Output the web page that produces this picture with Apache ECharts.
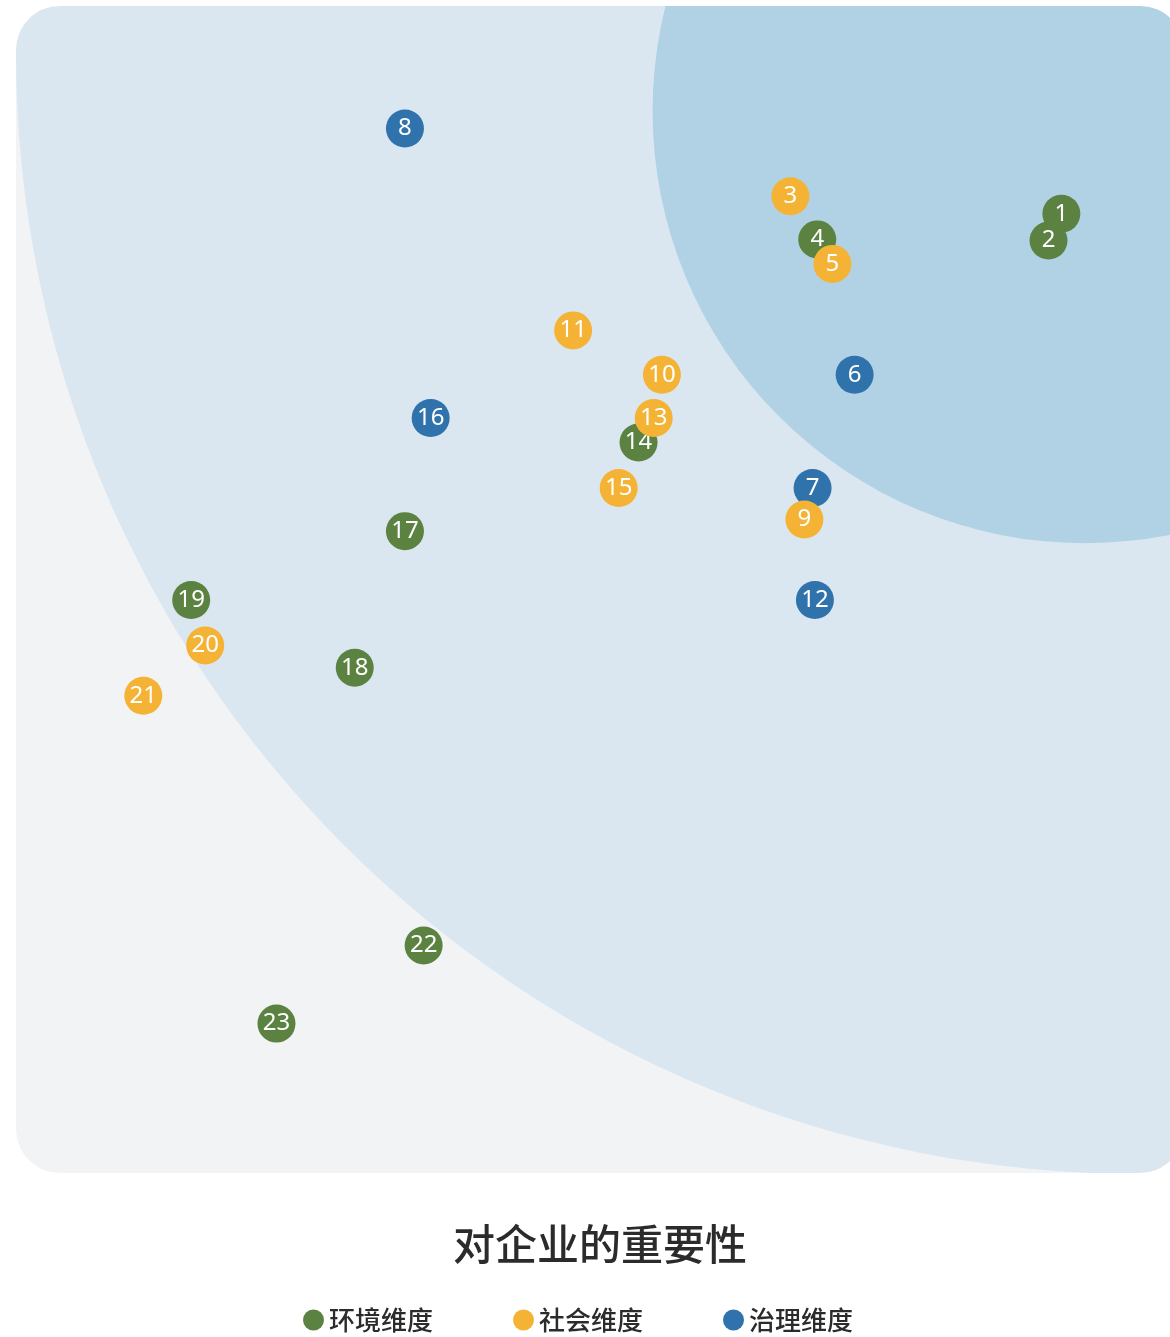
<!DOCTYPE html>
<html>
<head>
<meta charset="utf-8">
<style>
  html, body { margin: 0; padding: 0; background: #ffffff; overflow: hidden; }
  #chart { width: 1200px; height: 1337px; }
</style>
<script src="https://cdn.jsdelivr.net/npm/echarts@6/dist/echarts.min.js"></script>
</head>
<body>
<div id="chart"></div>
<script>
// ---- Data ----
const pointIds = [1, 2, 3, 4, 5, 6, 7, 8, 9, 10, 11, 12, 13, 14, 15, 16, 17, 18, 19, 20, 21, 22, 23];
const importanceToCompany = [8.95, 8.84, 6.63, 6.86, 6.99, 7.18, 6.82, 3.33, 6.75, 5.53, 4.77, 6.84, 5.46, 5.33, 5.16, 3.55, 3.33, 2.90, 1.50, 1.62, 1.09, 3.49, 2.23];
const importanceToStakeholders = [8.22, 7.99, 8.37, 8.00, 7.79, 6.84, 5.87, 8.95, 5.60, 6.84, 7.22, 4.91, 6.47, 6.26, 5.87, 6.47, 5.50, 4.33, 4.91, 4.52, 4.09, 1.95, 1.28];
const pointDimension = ['环境维度', '环境维度', '社会维度', '环境维度', '社会维度', '治理维度', '治理维度', '治理维度', '社会维度', '社会维度', '社会维度', '治理维度', '社会维度', '环境维度', '社会维度', '治理维度', '环境维度', '环境维度', '环境维度', '社会维度', '社会维度', '环境维度', '环境维度'];
const dimensionNames = ['环境维度', '社会维度', '治理维度'];

// Materiality zones (data units): outer = medium, inner = high
const zoneCenterX = [9.6, 9.15];
const zoneCenterY = [9.6, 9.1];
const zoneRadius = [9.6, 3.7];

const axisMin = 0;
const axisMax = 10;
const xAxisName = '对企业的重要性';

// ---- Styles ----
const dimensionColors = { '环境维度': '#5b8241', '社会维度': '#f5b335', '治理维度': '#2f72ac' };
const dimensionZ = { '环境维度': 3, '社会维度': 5, '治理维度': 4 };
const zoneColors = ['#dae7f0', '#b1d2e5'];
const plotBg = '#f1f3f5';
const cornerRadius = 44;
const fontFamily = '"Noto Sans", "Noto Sans CJK SC", sans-serif';
const cjkFont = '"Noto Sans CJK SC", sans-serif';

const chart = echarts.init(document.getElementById('chart'));

function renderBackground(params, api) {
  const cs = params.coordSys;
  const x = cs.x, y = cs.y, w = cs.width, h = cs.height;
  const x2 = x + w, y2 = y + h, r = cornerRadius;
  const children = [];
  children.push({
    type: 'rect',
    shape: { x: x, y: y, width: w, height: h },
    style: { fill: plotBg }
  });
  for (let i = 0; i < zoneRadius.length; i++) {
    const c = api.coord([zoneCenterX[i], zoneCenterY[i]]);
    const rad = api.size([zoneRadius[i], 0])[0];
    children.push({
      type: 'circle',
      shape: { cx: c[0], cy: c[1], r: rad },
      style: { fill: zoneColors[i] }
    });
  }
  const masks = [
    `M${x} ${y} L${x + r} ${y} A${r} ${r} 0 0 0 ${x} ${y + r} Z`,
    `M${x2} ${y} L${x2} ${y + r} A${r} ${r} 0 0 0 ${x2 - r} ${y} Z`,
    `M${x2} ${y2} L${x2 - r} ${y2} A${r} ${r} 0 0 0 ${x2} ${y2 - r} Z`,
    `M${x} ${y2} L${x} ${y2 - r} A${r} ${r} 0 0 0 ${x + r} ${y2} Z`
  ];
  masks.forEach(function (d) {
    children.push({
      type: 'path',
      shape: { pathData: d },
      style: { fill: '#ffffff' }
    });
  });
  return { type: 'group', children: children };
}

const scatterSeries = dimensionNames.map(function (dim) {
  const data = [];
  for (let i = 0; i < pointIds.length; i++) {
    if (pointDimension[i] === dim) {
      data.push({ name: String(pointIds[i]), value: [importanceToCompany[i], importanceToStakeholders[i]] });
    }
  }
  return {
    name: dim,
    type: 'scatter',
    z: dimensionZ[dim],
    symbol: 'circle',
    symbolSize: 38,
    itemStyle: { color: dimensionColors[dim], opacity: 1 },
    label: {
      show: true,
      position: 'inside',
      formatter: '{b}',
      color: '#ffffff',
      fontSize: 24,
      fontFamily: fontFamily
    },
    emphasis: { disabled: true },
    data: data
  };
});

const option = {
  backgroundColor: '#ffffff',
  animation: false,
  textStyle: { fontFamily: fontFamily },
  grid: { left: 16, top: 6, width: 1168, height: 1167, containLabel: false },
  xAxis: {
    type: 'value',
    min: axisMin,
    max: axisMax,
    name: xAxisName,
    nameLocation: 'middle',
    nameGap: 50,
    nameTextStyle: { fontSize: 42, fontWeight: 500, color: '#2b2b2b', fontFamily: cjkFont },
    axisLine: { show: false },
    axisTick: { show: false },
    axisLabel: { show: false },
    splitLine: { show: false }
  },
  yAxis: {
    type: 'value',
    min: axisMin,
    max: axisMax,
    axisLine: { show: false },
    axisTick: { show: false },
    axisLabel: { show: false },
    splitLine: { show: false }
  },
  legend: {
    data: dimensionNames,
    left: 298,
    top: 1302,
    icon: 'circle',
    itemWidth: 21,
    itemHeight: 21,
    itemGap: 80,
    textStyle: { fontSize: 26, fontWeight: 500, color: '#2b2b2b', fontFamily: cjkFont },
    selectedMode: false
  },
  series: [{
    type: 'custom',
    name: 'zones',
    silent: true,
    clip: true,
    z: 1,
    renderItem: renderBackground,
    data: [[0, 0]],
    tooltip: { show: false }
  }].concat(scatterSeries)
};

chart.setOption(option);
</script>
</body>
</html>
